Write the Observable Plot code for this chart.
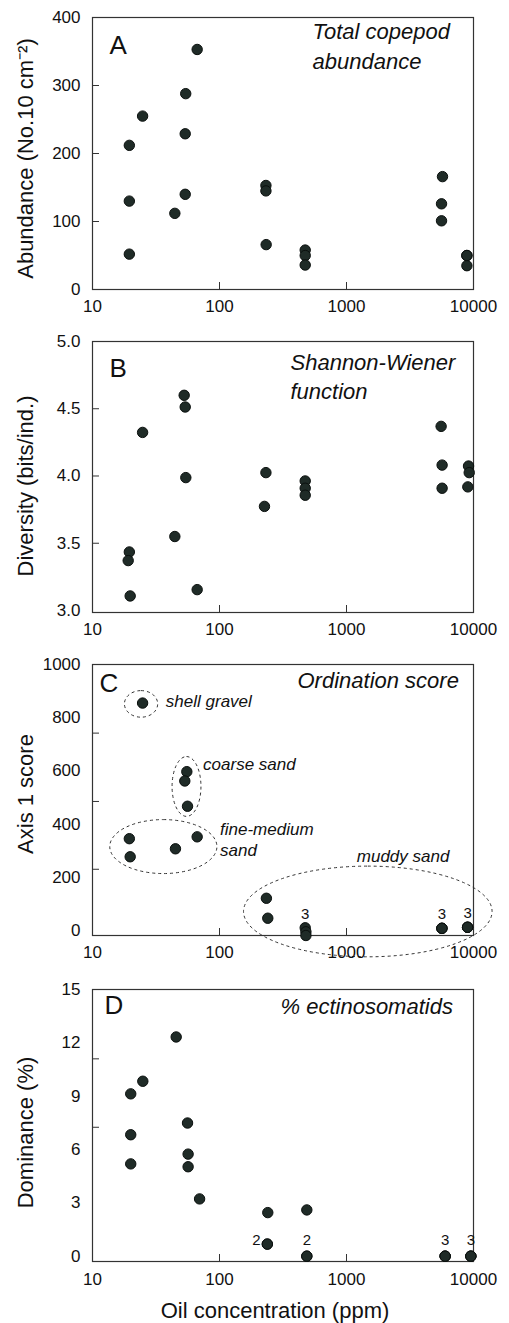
<!DOCTYPE html>
<html><head><meta charset="utf-8">
<script src="https://cdn.jsdelivr.net/npm/d3@7"></script>
<script src="https://cdn.jsdelivr.net/npm/@observablehq/plot@0.6"></script>
<style>
html,body{margin:0;padding:0;background:#fff;overflow:hidden;}
#chart svg{display:block;}
</style></head><body><div id="chart"></div>
<script>
// ---- shared axis / text content ----
const xTicks = [10, 100, 1000, 10000];
const xInnerTicks = [100, 1000];
const panelLetters = ["A", "B", "C", "D"];
const panelTitles = ["Total copepod\nabundance", "Shannon-Wiener\nfunction", "Ordination score", "% ectinosomatids"];
const yTitles = ["Abundance (No.10 cm⁻²)", "Diversity (bits/ind.)", "Axis 1 score", "Dominance (%)"];
const xTitle = "Oil concentration (ppm)";

// ---- panel A: total copepod abundance ----
const ppmA = [19.5, 19.5, 19.5, 24.8, 44.5, 53.7, 53.7, 54.2, 66.7, 232, 232, 233, 473, 473, 473, 5700, 5600, 5600, 8870, 8870, 8870];
const abundance = [52, 130, 212, 255, 112, 140, 229, 288, 353, 153, 145, 66, 58, 50, 36, 166, 126, 101, 50, 35, 50];
const yTicksA = [0, 100, 200, 300, 400];
const yInnerA = [100, 200, 300];

// ---- panel B: Shannon-Wiener diversity ----
const ppmB = [19.5, 19.1, 19.8, 24.8, 44.5, 52.7, 53.7, 54.3, 66.7, 232, 226, 473, 473, 473, 5560, 5660, 5660, 9140, 9250, 9020];
const diversity = [3.435, 3.371, 3.108, 4.324, 3.550, 4.600, 4.513, 3.988, 3.155, 4.025, 3.774, 3.963, 3.909, 3.857, 4.369, 4.081, 3.909, 4.074, 4.025, 3.919];
const yTicksB = [3.0, 3.5, 4.0, 4.5, 5.0];
const yInnerB = [3.5, 4.0, 4.5];

// ---- panel C: ordination axis 1 score ----
const ppmC = [24.8, 55.3, 53.3, 56.0, 19.5, 19.8, 45, 66.7, 234, 240, 473, 479, 479, 5640, 5640, 5640, 8980, 8980, 8980];
const score = [855, 597, 562, 467, 345, 277, 307, 352, 121, 46, 10, -5, -19, 8, 8, 8, 12, 12, 12];
const yTicksC = [0, 200, 400, 600, 800, 1000];
const yInnerC = [230, 485, 742];
const sedimentGroups = ["shell gravel", "coarse sand", "fine-medium\nsand", "muddy sand"];
const groupPpmLow = [18.0, 42.7, 13.8, 156];
const groupPpmHigh = [32.9, 72.1, 96.3, 14130];
const groupScoreLow = [800, 427, 212, -101];
const groupScoreHigh = [900, 652, 415, 240];
const groupLabelPpm = [37.8, 74.3, 101, 1205];
const groupLabelScore = [866, 629, 346, 284];
const countsC = ["3", "3", "3"];
const countPpmC = [473, 5640, 8980];
const countScoreC = [10, 8, 12];

// ---- panel D: % ectinosomatids ----
const ppmD = [45.6, 24.9, 20, 20, 20, 56, 56.6, 56.6, 69.7, 240, 238, 238, 487, 487, 487, 5980, 5980, 5980, 9530, 9530, 9530];
const dominance = [12.33, 9.84, 9.13, 6.83, 5.19, 7.49, 5.74, 5.03, 3.22, 2.45, 0.68, 0.68, 2.60, 0, 0, 0, 0, 0, 0, 0, 0];
const yTicksD = [0, 3, 6, 9, 12, 15];
const yInnerD = [7.25, 11.1];
const countsD = ["2", "2", "3", "3"];
const countPpmD = [238, 487, 5980, 9530];
const countDomD = [0.68, 0, 0, 0];

// ---- helpers ----
const FONT = "'Liberation Sans', Arial, Helvetica, sans-serif";
const W = 509, ML = 92, MR = 36;
const rows = (xs, ys) => xs.map((x, i) => ({x, y: ys[i]}));

function panel(k, cfg) {
  const frameH = cfg.height - cfg.marginTop - cfg.marginBottom;
  const frameW = W - ML - MR;
  const marks = [
    ...(cfg.pre || []),
    Plot.frame({stroke: "#333", strokeWidth: 1.2}),
    Plot.tickX(xInnerTicks, {x: d => d, insetTop: frameH - 7, stroke: "#333", strokeWidth: 1}),
    Plot.tickY(cfg.yInner, {y: d => d, insetRight: frameW - 7, stroke: "#333", strokeWidth: 1}),
    Plot.axisX({ticks: xTicks, tickSize: 0, tickPadding: cfg.xPad, tickFormat: d => String(d), label: null, fill: "#111"}),
    Plot.axisY({ticks: cfg.yTicks, tickSize: 0, tickPadding: 12, tickFormat: cfg.yFormat || (d => String(d)), label: null, fill: "#111"}),
    Plot.dot(cfg.data, {x: "x", y: "y", r: 5.2, fill: "#1f2b27", stroke: "#0a0f0d", strokeWidth: 1}),
    ...(cfg.post || []),
    Plot.text([panelLetters[k]], {text: d => d, frameAnchor: "top-left", textAnchor: "start", lineAnchor: "top",
      dx: cfg.letterDx, dy: cfg.letterDy, fontSize: 26, fill: "#111"}),
    Plot.text([panelTitles[k]], {text: d => d, frameAnchor: "top-left", textAnchor: "start", lineAnchor: "top",
      dx: cfg.titleDx, dy: cfg.titleDy, fontSize: 22, fontStyle: "italic", lineHeight: cfg.titleLH || 1, fill: "#111"}),
    Plot.text([yTitles[k]], {text: d => d, frameAnchor: "left", textAnchor: "middle", lineAnchor: "top",
      rotate: -90, dx: -75, dy: cfg.yTitleDy, fontSize: 22, fill: "#111"})
  ];
  return Plot.plot({
    width: W, height: cfg.height,
    marginLeft: ML, marginRight: MR, marginTop: cfg.marginTop, marginBottom: cfg.marginBottom,
    style: {fontFamily: FONT, fontSize: "17px", color: "#111", background: "white"},
    x: {type: "log", domain: [10, 10000], label: null},
    y: {domain: cfg.yDomain, label: null},
    marks
  });
}

const chart = document.getElementById("chart");

chart.append(panel(0, {
  height: 324, marginTop: 17, marginBottom: 35, xPad: 10,
  yDomain: [0, 400], yTicks: yTicksA, yInner: yInnerA,
  data: rows(ppmA, abundance),
  letterDx: 17, letterDy: 18, titleDx: 220, titleDy: 0, titleLH: 1.36, yTitleDy: 5
}));

chart.append(panel(1, {
  height: 324, marginTop: 17, marginBottom: 36, xPad: 10,
  yDomain: [2.985, 5], yTicks: yTicksB, yInner: yInnerB, yFormat: d3.format(".1f"),
  data: rows(ppmB, diversity),
  letterDx: 17, letterDy: 17, titleDx: 198, titleDy: 8, titleLH: 1.32, yTitleDy: 9
}));

const groups = sedimentGroups.map((name, i) => ({
  name, x1: groupPpmLow[i], x2: groupPpmHigh[i], y1: groupScoreLow[i], y2: groupScoreHigh[i],
  lx: groupLabelPpm[i], ly: groupLabelScore[i]
}));
const countRowsC = countsC.map((n, i) => ({n, x: countPpmC[i], y: countScoreC[i]}));

chart.append(panel(2, {
  height: 324, marginTop: 16, marginBottom: 37, xPad: 10,
  yDomain: [-19, 1000], yTicks: yTicksC, yInner: yInnerC,
  data: rows(ppmC, score),
  pre: [
    Plot.rect(groups, {x1: "x1", x2: "x2", y1: "y1", y2: "y2", rx: 999, ry: 999, fill: "none",
      stroke: "#333", strokeWidth: 1, strokeDasharray: "3,3"})
  ],
  post: [
    Plot.text(groups, {x: "lx", y: "ly", text: "name", textAnchor: "start", lineAnchor: "middle",
      fontSize: 17, fontStyle: "italic", lineHeight: 1.24, fill: "#111"}),
    Plot.text(countRowsC, {x: "x", y: "y", text: "n", dy: -14, lineAnchor: "middle", fontSize: 15, fill: "#111"})
  ],
  letterDx: 7, letterDy: 9, titleDx: 205, titleDy: 8, yTitleDy: -6
}));

const countRowsD = countsD.map((n, i) => ({n, x: countPpmD[i], y: countDomD[i]}));

chart.append(panel(3, {
  height: 351, marginTop: 17, marginBottom: 62, xPad: 11,
  yDomain: [-0.3, 15], yTicks: yTicksD, yInner: yInnerD,
  data: rows(ppmD, dominance),
  post: [
    Plot.text(countRowsD.slice(0, 1), {x: "x", y: "y", text: "n", dx: -11, dy: -4, lineAnchor: "middle", fontSize: 15, fill: "#111"}),
    Plot.text(countRowsD.slice(1), {x: "x", y: "y", text: "n", dy: -16, lineAnchor: "middle", fontSize: 15, fill: "#111"}),
    Plot.text([xTitle], {text: d => d, frameAnchor: "bottom", textAnchor: "middle", lineAnchor: "top",
      dx: -8, dy: 41, fontSize: 22, fill: "#111"})
  ],
  letterDx: 12, letterDy: 6, titleDx: 188, titleDy: 9, yTitleDy: 7
}));
</script></body></html>
